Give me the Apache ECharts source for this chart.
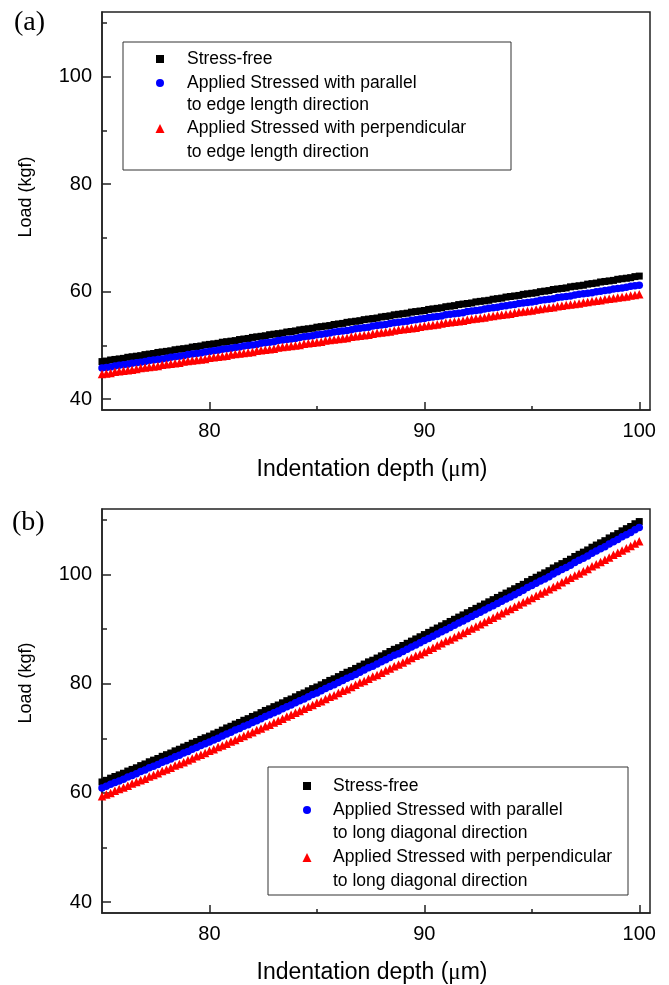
<!DOCTYPE html>
<html>
<head>
<meta charset="utf-8">
<script src="https://cdn.jsdelivr.net/npm/echarts@6/dist/echarts.min.js"></script>
<style>
  html, body { margin: 0; padding: 0; background: #fff; }
  #chart { width: 669px; height: 985px; }
</style>
</head>
<body>
<div id="chart"></div>
<script>
// Indentation depth (µm), sampled every 0.2 µm
const depth = [
  75, 75.2, 75.4, 75.6, 75.8, 76, 76.2, 76.4, 76.6, 76.8,
  77, 77.2, 77.4, 77.6, 77.8, 78, 78.2, 78.4, 78.6, 78.8,
  79, 79.2, 79.4, 79.6, 79.8, 80, 80.2, 80.4, 80.6, 80.8,
  81, 81.2, 81.4, 81.6, 81.8, 82, 82.2, 82.4, 82.6, 82.8,
  83, 83.2, 83.4, 83.6, 83.8, 84, 84.2, 84.4, 84.6, 84.8,
  85, 85.2, 85.4, 85.6, 85.8, 86, 86.2, 86.4, 86.6, 86.8,
  87, 87.2, 87.4, 87.6, 87.8, 88, 88.2, 88.4, 88.6, 88.8,
  89, 89.2, 89.4, 89.6, 89.8, 90, 90.2, 90.4, 90.6, 90.8,
  91, 91.2, 91.4, 91.6, 91.8, 92, 92.2, 92.4, 92.6, 92.8,
  93, 93.2, 93.4, 93.6, 93.8, 94, 94.2, 94.4, 94.6, 94.8,
  95, 95.2, 95.4, 95.6, 95.8, 96, 96.2, 96.4, 96.6, 96.8,
  97, 97.2, 97.4, 97.6, 97.8, 98, 98.2, 98.4, 98.6, 98.8,
  99, 99.2, 99.4, 99.6, 99.8, 100
];

// (a) load (kgf), edge-length loading
const loadFreeA = [
  47.0, 47.1, 47.3, 47.4, 47.5, 47.6, 47.8, 47.9, 48.0, 48.1,
  48.3, 48.4, 48.5, 48.7, 48.8, 48.9, 49.0, 49.2, 49.3, 49.4,
  49.5, 49.7, 49.8, 49.9, 50.1, 50.2, 50.3, 50.4, 50.6, 50.7,
  50.8, 50.9, 51.1, 51.2, 51.3, 51.5, 51.6, 51.7, 51.8, 52.0,
  52.1, 52.2, 52.3, 52.5, 52.6, 52.7, 52.9, 53.0, 53.1, 53.2,
  53.4, 53.5, 53.6, 53.7, 53.9, 54.0, 54.1, 54.3, 54.4, 54.5,
  54.6, 54.8, 54.9, 55.0, 55.1, 55.3, 55.4, 55.5, 55.7, 55.8,
  55.9, 56.0, 56.2, 56.3, 56.4, 56.5, 56.7, 56.8, 56.9, 57.0,
  57.2, 57.3, 57.4, 57.6, 57.7, 57.8, 57.9, 58.1, 58.2, 58.3,
  58.4, 58.6, 58.7, 58.8, 59.0, 59.1, 59.2, 59.3, 59.5, 59.6,
  59.7, 59.8, 60.0, 60.1, 60.2, 60.4, 60.5, 60.6, 60.7, 60.9,
  61.0, 61.1, 61.2, 61.4, 61.5, 61.6, 61.8, 61.9, 62.0, 62.1,
  62.3, 62.4, 62.5, 62.6, 62.8, 62.9
];
const loadParA = [
  45.8, 45.9, 46.0, 46.2, 46.3, 46.4, 46.5, 46.7, 46.8, 46.9,
  47.0, 47.2, 47.3, 47.4, 47.5, 47.6, 47.8, 47.9, 48.0, 48.1,
  48.3, 48.4, 48.5, 48.6, 48.8, 48.9, 49.0, 49.1, 49.3, 49.4,
  49.5, 49.6, 49.7, 49.9, 50.0, 50.1, 50.2, 50.4, 50.5, 50.6,
  50.7, 50.9, 51.0, 51.1, 51.2, 51.3, 51.5, 51.6, 51.7, 51.8,
  52.0, 52.1, 52.2, 52.3, 52.5, 52.6, 52.7, 52.8, 52.9, 53.1,
  53.2, 53.3, 53.4, 53.6, 53.7, 53.8, 53.9, 54.1, 54.2, 54.3,
  54.4, 54.5, 54.7, 54.8, 54.9, 55.0, 55.2, 55.3, 55.4, 55.5,
  55.7, 55.8, 55.9, 56.0, 56.1, 56.3, 56.4, 56.5, 56.6, 56.8,
  56.9, 57.0, 57.1, 57.3, 57.4, 57.5, 57.6, 57.8, 57.9, 58.0,
  58.1, 58.2, 58.4, 58.5, 58.6, 58.7, 58.9, 59.0, 59.1, 59.2,
  59.4, 59.5, 59.6, 59.7, 59.8, 60.0, 60.1, 60.2, 60.3, 60.5,
  60.6, 60.7, 60.8, 61.0, 61.1, 61.2
];
const loadPerpA = [
  44.7, 44.8, 44.9, 45.1, 45.2, 45.3, 45.4, 45.5, 45.6, 45.8,
  45.9, 46.0, 46.1, 46.2, 46.4, 46.5, 46.6, 46.7, 46.8, 47.0,
  47.1, 47.2, 47.3, 47.4, 47.5, 47.7, 47.8, 47.9, 48.0, 48.1,
  48.3, 48.4, 48.5, 48.6, 48.7, 48.8, 49.0, 49.1, 49.2, 49.3,
  49.4, 49.6, 49.7, 49.8, 49.9, 50.0, 50.1, 50.3, 50.4, 50.5,
  50.6, 50.7, 50.9, 51.0, 51.1, 51.2, 51.3, 51.4, 51.6, 51.7,
  51.8, 51.9, 52.0, 52.2, 52.3, 52.4, 52.5, 52.6, 52.8, 52.9,
  53.0, 53.1, 53.2, 53.3, 53.5, 53.6, 53.7, 53.8, 53.9, 54.1,
  54.2, 54.3, 54.4, 54.5, 54.6, 54.8, 54.9, 55.0, 55.1, 55.2,
  55.4, 55.5, 55.6, 55.7, 55.8, 55.9, 56.1, 56.2, 56.3, 56.4,
  56.5, 56.7, 56.8, 56.9, 57.0, 57.1, 57.3, 57.4, 57.5, 57.6,
  57.7, 57.8, 58.0, 58.1, 58.2, 58.3, 58.4, 58.6, 58.7, 58.8,
  58.9, 59.0, 59.1, 59.3, 59.4, 59.5
];

// (b) load (kgf), long-diagonal loading
const loadFreeB = [
  62.0, 62.3, 62.7, 63.0, 63.3, 63.6, 64.0, 64.3, 64.6, 65.0,
  65.3, 65.7, 66.0, 66.3, 66.7, 67.0, 67.3, 67.7, 68.0, 68.4,
  68.7, 69.1, 69.4, 69.8, 70.1, 70.4, 70.8, 71.1, 71.5, 71.9,
  72.2, 72.6, 72.9, 73.3, 73.6, 74.0, 74.3, 74.7, 75.1, 75.4,
  75.8, 76.1, 76.5, 76.9, 77.2, 77.6, 78.0, 78.3, 78.7, 79.1,
  79.4, 79.8, 80.2, 80.6, 80.9, 81.3, 81.7, 82.1, 82.4, 82.8,
  83.2, 83.6, 84.0, 84.3, 84.7, 85.1, 85.5, 85.9, 86.3, 86.6,
  87.0, 87.4, 87.8, 88.2, 88.6, 89.0, 89.4, 89.8, 90.2, 90.6,
  91.0, 91.4, 91.8, 92.2, 92.6, 93.0, 93.4, 93.8, 94.2, 94.6,
  95.0, 95.4, 95.8, 96.2, 96.6, 97.0, 97.4, 97.8, 98.2, 98.7,
  99.1, 99.5, 99.9, 100.3, 100.7, 101.2, 101.6, 102.0, 102.4, 102.8,
  103.3, 103.7, 104.1, 104.5, 105.0, 105.4, 105.8, 106.2, 106.7, 107.1,
  107.5, 108.0, 108.4, 108.8, 109.3, 109.7
];
const loadParB = [
  60.9, 61.2, 61.6, 61.9, 62.2, 62.5, 62.9, 63.2, 63.5, 63.9,
  64.2, 64.6, 64.9, 65.2, 65.6, 65.9, 66.2, 66.6, 66.9, 67.3,
  67.6, 68.0, 68.3, 68.7, 69.0, 69.3, 69.7, 70.0, 70.4, 70.8,
  71.1, 71.5, 71.8, 72.2, 72.5, 72.9, 73.2, 73.6, 74.0, 74.3,
  74.7, 75.0, 75.4, 75.8, 76.1, 76.5, 76.9, 77.2, 77.6, 78.0,
  78.3, 78.7, 79.1, 79.5, 79.8, 80.2, 80.6, 81.0, 81.3, 81.7,
  82.1, 82.5, 82.9, 83.2, 83.6, 84.0, 84.4, 84.8, 85.2, 85.5,
  85.9, 86.3, 86.7, 87.1, 87.5, 87.9, 88.3, 88.7, 89.1, 89.5,
  89.9, 90.3, 90.7, 91.1, 91.5, 91.9, 92.3, 92.7, 93.1, 93.5,
  93.9, 94.3, 94.7, 95.1, 95.5, 95.9, 96.3, 96.7, 97.1, 97.6,
  98.0, 98.4, 98.8, 99.2, 99.6, 100.1, 100.5, 100.9, 101.3, 101.7,
  102.2, 102.6, 103.0, 103.4, 103.9, 104.3, 104.7, 105.1, 105.6, 106.0,
  106.4, 106.9, 107.3, 107.7, 108.2, 108.6
];
const loadPerpB = [
  59.4, 59.7, 60.0, 60.4, 60.7, 61.0, 61.3, 61.7, 62.0, 62.3,
  62.6, 63.0, 63.3, 63.6, 64.0, 64.3, 64.6, 65.0, 65.3, 65.6,
  66.0, 66.3, 66.7, 67.0, 67.3, 67.7, 68.0, 68.4, 68.7, 69.0,
  69.4, 69.7, 70.1, 70.4, 70.8, 71.1, 71.5, 71.8, 72.2, 72.5,
  72.9, 73.2, 73.6, 74.0, 74.3, 74.7, 75.0, 75.4, 75.8, 76.1,
  76.5, 76.8, 77.2, 77.6, 77.9, 78.3, 78.7, 79.0, 79.4, 79.8,
  80.2, 80.5, 80.9, 81.3, 81.6, 82.0, 82.4, 82.8, 83.2, 83.5,
  83.9, 84.3, 84.7, 85.1, 85.4, 85.8, 86.2, 86.6, 87.0, 87.4,
  87.8, 88.1, 88.5, 88.9, 89.3, 89.7, 90.1, 90.5, 90.9, 91.3,
  91.7, 92.1, 92.5, 92.9, 93.3, 93.7, 94.1, 94.5, 94.9, 95.3,
  95.7, 96.1, 96.5, 96.9, 97.3, 97.7, 98.1, 98.6, 99.0, 99.4,
  99.8, 100.2, 100.6, 101.0, 101.5, 101.9, 102.3, 102.7, 103.1, 103.6,
  104.0, 104.4, 104.8, 105.2, 105.7, 106.1
];

// Axis ticks and labels
const xMajor = [80, 90, 100];
const xMinor = [85, 95];
const yMajor = [40, 60, 80, 100];
const yMinor = [50, 70, 90, 110];

// Legend texts
const nameFree = 'Stress-free';
const namesA = ['Applied Stressed with parallel\nto edge length direction',
                'Applied Stressed with perpendicular\nto edge length direction'];
const namesB = ['Applied Stressed with parallel\nto long diagonal direction',
                'Applied Stressed with perpendicular\nto long diagonal direction'];
const yTitle = 'Load (kgf)';

const SANS = '"Liberation Sans", Arial, sans-serif';
const SERIF = '"Liberation Serif", "Times New Roman", serif';
const AX = '#222';

const pair = vals => depth.map((d, i) => [d, vals[i]]);

const grids = [
  { left: 102, top: 12, width: 548, height: 398 },
  { left: 102, top: 509, width: 548, height: 404 }
].map(g => Object.assign(g, { show: true, borderColor: AX, borderWidth: 1.5, backgroundColor: 'transparent' }));

const xAxes = [], yAxes = [];
[0, 1].forEach(g => {
  xAxes.push({
    gridIndex: g, type: 'value', min: 75, max: 100.5, position: 'bottom',
    axisLine: { show: true, onZero: false, lineStyle: { color: AX, width: 1.5 } },
    axisTick: { show: true, inside: true, length: 8, customValues: xMajor, lineStyle: { color: AX, width: 1.5 } },
    axisLabel: { customValues: xMajor, margin: 11, color: '#000', fontSize: 20, fontFamily: SANS },
    splitLine: { show: false },
    name: 'Indentation depth ({mu|\u03bc}m)', nameLocation: 'middle', nameGap: 48,
    nameTextStyle: { color: '#000', fontSize: 23, fontFamily: SANS, padding: [0, 8, 0, 0],
      rich: { mu: { color: '#000', fontSize: 23, fontFamily: SERIF } } }
  });
  xAxes.push({
    gridIndex: g, type: 'value', min: 75, max: 100.5, position: 'bottom',
    axisLine: { show: false },
    axisTick: { show: true, inside: true, length: 4, customValues: xMinor, lineStyle: { color: AX, width: 1.5 } },
    axisLabel: { show: false }, splitLine: { show: false }
  });
  yAxes.push({
    gridIndex: g, type: 'value', min: 38, max: 112, position: 'left',
    axisLine: { show: true, onZero: false, lineStyle: { color: AX, width: 1.5 } },
    axisTick: { show: true, inside: true, length: 9, customValues: yMajor, lineStyle: { color: AX, width: 1.5 } },
    axisLabel: { customValues: yMajor, margin: 10, color: '#000', fontSize: 20, fontFamily: SANS },
    splitLine: { show: false }
  });
  yAxes.push({
    gridIndex: g, type: 'value', min: 38, max: 112, position: 'left',
    axisLine: { show: false },
    axisTick: { show: true, inside: true, length: 5, customValues: yMinor, lineStyle: { color: AX, width: 1.5 } },
    axisLabel: { show: false }, splitLine: { show: false }
  });
});

function sc(name, g, vals, symbol, size, color) {
  return {
    type: 'scatter', name, xAxisIndex: 2 * g, yAxisIndex: 2 * g,
    data: pair(vals), symbol, symbolSize: size,
    itemStyle: { color, opacity: 1 }, emphasis: { disabled: true }, silent: true
  };
}

const series = [
  sc(nameFree, 0, loadFreeA, 'rect', 7, '#000'),
  sc(namesA[0], 0, loadParA, 'circle', 7.5, '#0000ff'),
  sc(namesA[1], 0, loadPerpA, 'triangle', 8.5, '#ff0000'),
  sc(nameFree, 1, loadFreeB, 'rect', 7, '#000'),
  sc(namesB[0], 1, loadParB, 'circle', 7.5, '#0000ff'),
  sc(namesB[1], 1, loadPerpB, 'triangle', 8.5, '#ff0000')
];

// One legend entry per row so that each key sits on the first line of its label
function legendRow(name, icon, size, cx, cy, tx) {
  return {
    show: true, orient: 'horizontal', padding: 0, selectedMode: false,
    left: cx - size / 2, top: cy - size / 2 - 4, itemWidth: size, itemHeight: size,
    data: [{ name, icon }],
    formatter: n => n.split('\n')[0],
    textStyle: { color: '#000', fontSize: 17.5, fontFamily: SANS,
      padding: [0, 0, 0, tx - (cx - size / 2 + size + 5)] }
  };
}

const legA = { cx: 160, tx: 187, rows: [58, 82, 105, 128, 152] };
const legB = { cx: 307, tx: 333, rows: [785, 809, 833, 857, 881] };

const legends = [
  legendRow(nameFree, 'rect', 8, legA.cx, legA.rows[0], legA.tx),
  legendRow(namesA[0], 'circle', 8, legA.cx, legA.rows[1], legA.tx),
  legendRow(namesA[1], 'triangle', 9, legA.cx, legA.rows[3], legA.tx),
  legendRow(nameFree, 'rect', 8, legB.cx, legB.rows[0], legB.tx),
  legendRow(namesB[0], 'circle', 8, legB.cx, legB.rows[1], legB.tx),
  legendRow(namesB[1], 'triangle', 9, legB.cx, legB.rows[3], legB.tx)
];

function secondLine(name, x, y) {
  return { type: 'text', x, y, z: 10,
    style: { text: name.split('\n')[1], fill: '#000', fontSize: 17.5, fontFamily: SANS, verticalAlign: 'middle' } };
}

function yName(y) {
  return { type: 'text', x: 26, y, rotation: Math.PI / 2,
    style: { text: yTitle, fill: '#000', fontSize: 18, fontFamily: SANS, align: 'center', verticalAlign: 'middle' } };
}

const graphics = [
  { type: 'rect', z: 1, shape: { x: 123, y: 42, width: 388, height: 128 },
    style: { fill: 'transparent', stroke: '#333', lineWidth: 1 } },
  { type: 'rect', z: 1, shape: { x: 268, y: 767, width: 360, height: 128 },
    style: { fill: 'transparent', stroke: '#333', lineWidth: 1 } },
  secondLine(namesA[0], legA.tx, legA.rows[2]),
  secondLine(namesA[1], legA.tx, legA.rows[4]),
  secondLine(namesB[0], legB.tx, legB.rows[2]),
  secondLine(namesB[1], legB.tx, legB.rows[4]),
  yName(197),
  yName(683),
  { type: 'text', x: 14, y: 23, style: { text: '(a)', fill: '#000', fontSize: 28, fontFamily: SERIF, verticalAlign: 'middle' } },
  { type: 'text', x: 12, y: 523, style: { text: '(b)', fill: '#000', fontSize: 28, fontFamily: SERIF, verticalAlign: 'middle' } }
];

const chart = echarts.init(document.getElementById('chart'), null, { renderer: 'canvas' });
chart.setOption({
  animation: false,
  backgroundColor: '#fff',
  grid: grids,
  xAxis: xAxes,
  yAxis: yAxes,
  legend: legends,
  graphic: graphics,
  series
});
</script>
</body>
</html>
